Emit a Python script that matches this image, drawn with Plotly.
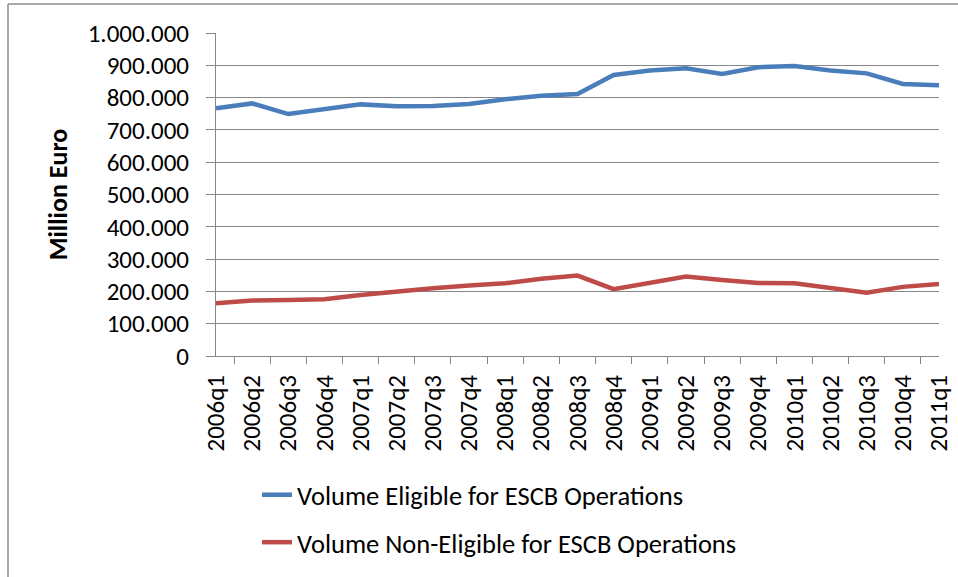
import plotly.graph_objects as go

categories = ["2006q1", "2006q2", "2006q3", "2006q4", "2007q1", "2007q2", "2007q3",
              "2007q4", "2008q1", "2008q2", "2008q3", "2008q4", "2009q1", "2009q2",
              "2009q3", "2009q4", "2010q1", "2010q2", "2010q3", "2010q4", "2011q1"]

eligible = [767000, 782000, 749000, 765000, 779000, 773000, 774000,
            780000, 795000, 806000, 811000, 870000, 884000, 891000,
            873000, 894000, 898000, 884000, 875000, 842000, 838000]

non_eligible = [163000, 172000, 173000, 176000, 189000, 201000, 210000,
                218000, 225000, 239000, 249000, 207000, 228000, 246000,
                235000, 226000, 225000, 209000, 196000, 214000, 223000]

series_names = ["Volume Eligible for ESCB Operations",
                "Volume Non-Eligible for ESCB Operations"]

FONT = "Carlito, Lato, sans-serif"
GRID = "#868686"

fig = go.Figure()
fig.add_trace(go.Scatter(x=categories, y=eligible, mode="lines", name=series_names[0],
                         legendgroup="a",
                         line=dict(color="#4A7EBB", width=4.5)))
fig.add_trace(go.Scatter(x=categories, y=non_eligible, mode="lines", name=series_names[1],
                         legendgroup="b",
                         line=dict(color="#BE4B48", width=4.5)))

L, R, T, B = 216, 958 - 939, 33, 577 - 356
pw, ph = 939 - L, 356 - T

def px(x):
    return (x - L) / pw

def py(y):
    return (356 - y) / ph

fig.update_layout(
    width=958, height=577,
    margin=dict(l=L, r=R, t=T, b=B, autoexpand=False),
    paper_bgcolor="white", plot_bgcolor="white",
    separators=",.",
    font=dict(family=FONT, size=25, color="black"),
    showlegend=True,
    legend=dict(x=px(257), y=py(471), xanchor="left", yanchor="top",
                traceorder="grouped", tracegroupgap=10,
                font=dict(family=FONT, size=26.5, color="black"),
                bgcolor="rgba(0,0,0,0)", itemwidth=30),
    xaxis=dict(type="category", tickangle=-90, tickson="boundaries",
               ticks="outside", ticklen=7, tickcolor=GRID, tickwidth=1,
               showline=True, linecolor=GRID, linewidth=1, showgrid=False,
               ticklabelstandoff=8,
               tickfont=dict(family=FONT, size=25, color="black")),
    yaxis=dict(range=[0, 1000000], dtick=100000, tickformat=",d",
               ticks="outside", ticklen=9, tickcolor=GRID, tickwidth=1,
               showline=True, linecolor=GRID, linewidth=1,
               showgrid=True, gridcolor=GRID, gridwidth=1, zeroline=False,
               ticklabelstandoff=12,
               tickfont=dict(family=FONT, size=25, color="black")),
    shapes=[
        dict(type="line", xref="paper", yref="paper",
             x0=px(8), x1=px(960), y0=py(4), y1=py(4),
             line=dict(color="#8C8C8C", width=1.5)),
        dict(type="line", xref="paper", yref="paper",
             x0=px(8), x1=px(8), y0=py(4), y1=py(580),
             line=dict(color="#8C8C8C", width=1.5)),
    ],
)
fig.update_yaxes(title=dict(text="<b>Million Euro</b>", standoff=12,
                            font=dict(family=FONT, size=26, color="black")))

fig.write_html("out.html", config={"displayModeBar": False},
               post_script="document.body.style.margin='0';document.body.style.padding='0';")
